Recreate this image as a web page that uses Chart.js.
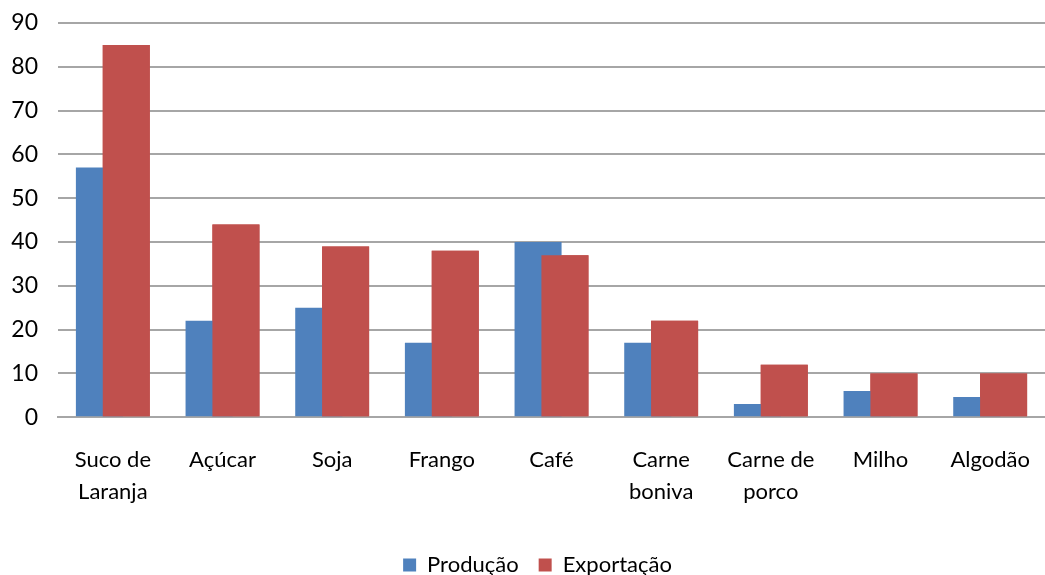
<!DOCTYPE html>
<html>
<head>
<meta charset="utf-8">
<script src="https://cdn.jsdelivr.net/npm/chart.js@4.4.1/dist/chart.umd.min.js"></script>
<style>
  html, body { margin: 0; padding: 0; background: #fff; }
  #wrap { width: 1045px; height: 575px; }
</style>
</head>
<body>
<div id="wrap"><canvas id="produtosChart"></canvas></div>
<script>
const categories = [
  ["Suco de", "Laranja"], "Açúcar", "Soja", "Frango", "Café",
  ["Carne", "boniva"], ["Carne de", "porco"], "Milho", "Algodão"
];
const producao = [57, 22, 25, 17, 40, 17, 3, 6, 4.6];
const exportacao = [85, 44, 39, 38, 37, 22, 12, 10, 10];
const yTicks = [0, 10, 20, 30, 40, 50, 60, 70, 80, 90];

const fontFamily = "Lato, 'Open Sans', sans-serif";

// Chart.js paints dataset 0 last; repaint the red bars so they overlap the blue ones
const redOnTop = {
  id: "redOnTop",
  afterDatasetsDraw(chart) {
    const meta = chart.getDatasetMeta(1);
    if (meta && !meta.hidden) {
      const area = chart.chartArea;
      const c = chart.ctx;
      c.save();
      c.beginPath();
      c.rect(area.left, area.top, area.right - area.left, area.bottom - area.top);
      c.clip();
      meta.controller.draw();
      c.restore();
    }
  }
};

// legend in the original sits a bit right of the canvas centre
const legendShift = {
  id: "legendShift",
  afterLayout(chart) {
    if (chart.legend) {
      chart.legend.left += 15;
      chart.legend.right += 15;
    }
  }
};

const ctx = document.getElementById("produtosChart").getContext("2d");
new Chart(ctx, {
  type: "bar",
  data: {
    labels: categories,
    datasets: [
      {
        label: "Produção",
        data: producao,
        backgroundColor: "#4F81BD",
        categoryPercentage: 0.49,
        barPercentage: 1.75
      },
      {
        label: "Exportação",
        data: exportacao,
        backgroundColor: "#C0504D",
        categoryPercentage: 0.49,
        barPercentage: 1.75
      }
    ]
  },
  plugins: [redOnTop, legendShift],
  options: {
    responsive: true,
    maintainAspectRatio: false,
    animation: false,
    // negative bottom padding pushes the legend closer to the canvas edge
    layout: { padding: { top: 23, right: 0, left: 0, bottom: -11 } },
    plugins: {
      tooltip: { enabled: false },
      legend: {
        position: "bottom",
        labels: {
          color: "#000",
          boxWidth: 13,
          boxHeight: 13,
          padding: 20,
          font: { family: fontFamily, size: 22 }
        }
      }
    },
    scales: {
      x: {
        grid: { display: false },
        border: { color: "#a6a6a6", width: 2 },
        afterFit: (scale) => {
          scale.paddingLeft = 0;
          scale.paddingRight = 0;
          scale.height += 7;
        },
        ticks: {
          color: "#000",
          maxRotation: 0,
          padding: 19,
          font: { family: fontFamily, size: 22, lineHeight: 1.45 }
        }
      },
      y: {
        min: 0,
        max: 90,
        afterBuildTicks: (scale) => {
          scale.ticks = yTicks.map(v => ({ value: v }));
        },
        afterFit: (scale) => {
          scale.width = 58;
          scale.paddingTop = 0;
          scale.paddingBottom = 0;
        },
        grid: { color: "#a6a6a6", lineWidth: 2, drawTicks: false },
        border: { display: false },
        ticks: {
          color: "#000",
          padding: 20,
          font: { family: fontFamily, size: 23 }
        }
      }
    }
  }
});
</script>
</body>
</html>
